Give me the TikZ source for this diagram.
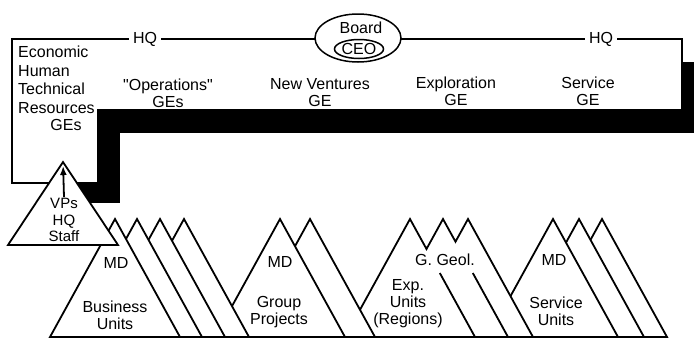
\documentclass[tikz,border=0pt]{standalone}
\usepackage{fontspec}
\setmainfont{Liberation Sans}[Ligatures=TeXOff]
\usetikzlibrary{arrows.meta,shapes.geometric,calc}

\tikzset{
  lbl/.style={font=\fontsize{16}{17}\selectfont, align=center, inner sep=0pt},
  mount/.style={draw, fill=white, line width=1.8pt},
}
% one mountain: apex x, apex at y=219, base on y=337
\newcommand{\peak}[1]{\draw[mount] (#1-65,337) -- (#1,219) -- (#1+65,337) -- cycle;}

\begin{document}
\begin{tikzpicture}[x=1pt, y=-1pt]
  \useasboundingbox (0,0) rectangle (694,338);
  \clip (0,0) rectangle (694,338);

  % shadow of HQ box
  \fill (34,62) rectangle (704,133);
  \fill (70,62) rectangle (120,203);
  \draw[fill=white, line width=1.2pt] (12,39) -| (682,110) -| (98,183) -| cycle;

  \node[lbl, fill=white, inner xsep=4pt, inner ysep=2pt] (hqleft) at (145,39) {HQ};
  \node[lbl, fill=white, inner xsep=4pt, inner ysep=2pt] (hqright) at (601,39) {HQ};
  \node[ellipse, draw, fill=white, line width=1.5pt, minimum width=86pt, minimum height=48pt, inner sep=0pt] (board) at (358,38) {};
  \node[lbl] (boardtxt) at (361,28) {Board};
  \node[lbl, ellipse, draw, line width=1.5pt, minimum width=46pt, minimum height=19pt] (ceo) at (359,49) {CEO};

  \node[lbl, align=left, anchor=north west, font=\fontsize{16}{18.5}\selectfont] (functions) at (18,46) {Economic\\Human\\Technical\\Resources};
  \node[lbl] (fges) at (66,125) {GEs};
  \node[lbl] (opsge) at (168,93) {"Operations"\\GEs};
  \node[lbl] (nvge) at (320,93) {New Ventures\\GE};
  \node[lbl] (expge) at (456,91) {Exploration\\GE};
  \node[lbl] (servge) at (588,91) {Service\\GE};

  % service units
  \foreach \x in {602,579,553} {\peak{\x}}
  % exploration units, merged at the top
  \coordinate (e1) at (410,219);
  \coordinate (e2) at (443,219);
  \coordinate (e3) at (468,219);
  \draw[mount] (345,337) -- (e1) -- (426.5,249) -- (e2) -- (455.5,241.7) -- (e3) -- (533,337) -- cycle;
  \draw[line width=1.8pt] (439.8,273) -- (475,337);
  \draw[line width=1.8pt] (472.8,273) -- (508,337);
  % group projects and business units
  \foreach \x in {310,280,184,160,137,115} {\peak{\x}}

  % VPs / HQ staff
  \draw[mount] (8,245) -- (63,162) -- (118,245) -- cycle;
  \coordinate (vpstop) at (63,162);
  \node[lbl, font=\fontsize{15}{16.5}\selectfont] (vps) at (64,220) {VPs\\HQ\\Staff};
  \draw[-{Latex[length=9pt,width=7pt]}, line width=1.8pt, shorten >=4pt] (vps.north) ++(0,-1) -- (vpstop);

  \node[lbl] (bumd) at (116,263) {MD};
  \node[lbl] (bu) at (115,315) {Business\\Units};
  \node[lbl] (gpmd) at (280,262) {MD};
  \node[lbl] (gp) at (279,312) {Group\\Projects};
  \node[lbl] (geol) at (445,260) {G. Geol.};
  \node[lbl] (exp) at (408,304) {Exp.\\Units\\(Regions)};
  \node[lbl] (svmd) at (554,260) {MD};
  \node[lbl] (sv) at (556,311) {Service\\Units};
\end{tikzpicture}
\end{document}
